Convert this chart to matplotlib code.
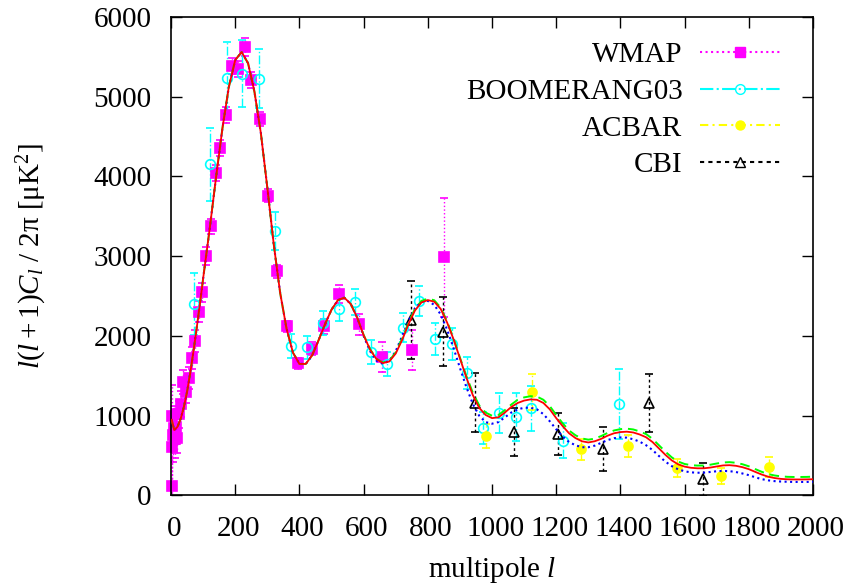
import matplotlib.pyplot as plt
from matplotlib.lines import Line2D
from matplotlib.transforms import ScaledTranslation

plt.rcParams['font.family'] = ['Liberation Serif', 'DejaVu Serif']
plt.rcParams['mathtext.fontset'] = 'custom'
plt.rcParams['mathtext.rm'] = 'Liberation Serif'
plt.rcParams['mathtext.it'] = 'Liberation Serif:italic'
plt.rcParams['mathtext.bf'] = 'Liberation Serif:bold'

# WMAP binned points (l, D_l, error)
wmap_l = [2, 3, 4, 6, 9, 12, 16, 20, 26, 32, 37, 47, 56, 65, 75, 87, 96, 108, 124,
          140, 152, 171, 189, 208, 230, 250, 276, 301, 330, 360, 396, 438, 476,
          524, 586, 656, 750, 850]
wmap_cl = [123, 610, 998, 756, 840, 714, 860, 723, 1019, 1144, 1423, 1298, 1473,
           1723, 1940, 2306, 2548, 3006, 3373, 4048, 4360, 4769, 5385, 5348, 5623,
           5206, 4723, 3760, 2810, 2119, 1660, 1840, 2119, 2527, 2148, 1735, 1819, 2985]
wmap_err = [560, 450, 390, 330, 280, 240, 210, 190, 170, 160, 150, 140, 140, 140,
            140, 130, 120, 110, 100, 100, 100, 100, 100, 100, 110, 100, 90, 80, 80,
            70, 70, 80, 90, 110, 130, 190, 250, 750]

# BOOMERANG03
boom_l = [73, 122, 174, 222, 273, 323, 374, 423, 472, 522, 573, 622, 674, 724,
          774, 822, 874, 922, 972, 1023, 1074, 1121, 1221, 1397]
boom_cl = [2402, 4152, 5235, 5290, 5223, 3315, 1873, 1856, 2160, 2335, 2423, 1798,
           1652, 2106, 2435, 1960, 1902, 1540, 844, 1035, 985, 1094, 686, 1152]
boom_err = [390, 460, 450, 420, 370, 240, 150, 150, 150, 150, 160, 150, 150, 180,
            190, 200, 200, 200, 200, 250, 300, 280, 220, 440]

# ACBAR
acbar_l = [981, 1125, 1276, 1424, 1576, 1713, 1864]
acbar_cl = [744, 1298, 581, 623, 348, 244, 356]
acbar_err = [150, 220, 130, 140, 110, 105, 130]

# CBI
cbi_l = [748, 848, 948, 1068, 1206, 1347, 1488, 1658]
cbi_cl = [2202, 2056, 1165, 794, 769, 581, 1160, 202]
cbi_err = [490, 430, 375, 300, 260, 280, 360, 210]

# model spectra
ell_th = [2, 10, 20, 30, 40, 50, 60, 70, 80, 90] + list(range(100, 2001, 20))
cl_common = [950, 820, 860, 960, 1110, 1300, 1540, 1810, 2100, 2400,
             2720, 3330, 3980, 4600, 5120, 5460, 5560, 5420, 5060, 4540,
             3860, 3150, 2540, 2090, 1790, 1650, 1650, 1760, 1950, 2150,
             2330, 2450, 2480, 2400, 2230]  # l = 2 .. 580
red_tail = [2010, 1830, 1710, 1660, 1680, 1780, 1950, 2150, 2320, 2420,
            2450, 2430, 2340, 2170, 1960, 1720, 1480, 1260, 1100, 1010,
            970, 980, 1040, 1110, 1160, 1190, 1205, 1200, 1160, 1080,
            970, 870, 780, 720, 680, 665, 680, 710, 750, 780,
            795, 800, 790, 765, 730, 670, 590, 510, 440, 390,
            362, 347, 341, 341, 350, 364, 377, 380, 372, 355,
            330, 296, 263, 236, 219, 208, 203, 201, 201, 202, 204]
green_tail = [2015, 1835, 1715, 1668, 1690, 1795, 1968, 2170, 2340, 2440,
              2468, 2448, 2356, 2185, 1972, 1730, 1500, 1290, 1130, 1040,
              1000, 1010, 1070, 1140, 1200, 1230, 1245, 1240, 1200, 1120,
              1010, 905, 815, 755, 715, 700, 712, 745, 785, 815,
              832, 838, 828, 803, 770, 710, 630, 550, 478, 425,
              395, 380, 375, 376, 386, 401, 414, 418, 410, 392,
              366, 331, 297, 269, 251, 240, 234, 232, 232, 233, 236]
blue_tail = [2000, 1810, 1690, 1650, 1690, 1810, 2000, 2190, 2350, 2430,
             2440, 2390, 2270, 2080, 1850, 1600, 1360, 1150, 1000, 920,
             900, 920, 980, 1040, 1080, 1100, 1100, 1080, 1020, 930,
             830, 740, 670, 630, 605, 605, 625, 660, 695, 718,
             728, 725, 705, 675, 630, 570, 495, 425, 368, 328,
             303, 290, 285, 287, 295, 304, 308, 305, 294, 276,
             255, 228, 205, 190, 180, 175, 172, 170, 170, 170, 171]
cl_red = cl_common + red_tail
cl_green = cl_common + green_tail
cl_blue = cl_common + blue_tail

fig = plt.figure(figsize=(8.5, 5.87), dpi=100)
ax = fig.add_axes([0.2012, 0.1559, 0.7553, 0.8152])


def plot_set(l, v, e, color, ls, marker, ms, mfc):
    eb = ax.errorbar(l, v, yerr=e, fmt=marker, color=color, ms=ms, mfc=mfc,
                     mec=color, mew=1.2, ecolor=color, elinewidth=1,
                     capsize=3, capthick=1, zorder=2)
    eb[2][0].set_linestyle(ls)
    eb[0].set_clip_on(False)


plot_set(wmap_l, wmap_cl, wmap_err, '#ff00ff', ':', 's', 7.5, '#ff00ff')
plot_set(boom_l, boom_cl, boom_err, '#00ffff', '-.', 'o', 7, 'none')
plot_set(acbar_l, acbar_cl, acbar_err, '#ffff00', (0, (4, 2, 1, 2)), 'o', 6.5, '#ffff00')
plot_set(cbi_l, cbi_cl, cbi_err, 'black', (0, (2, 2)), '^', 6.5, 'none')

ax.plot(ell_th, cl_blue, color='#0000ff', ls=':', lw=1.5, zorder=3)
ax.plot(ell_th, cl_green, color='#00ff00', ls=(0, (5, 3)), lw=1.4, zorder=3)
ax.plot(ell_th, cl_red, color='#ff0000', ls='-', lw=1.3, zorder=4)

ax.set_xlim(0, 2000)
ax.set_ylim(0, 6000)
ax.set_xticks(range(0, 2001, 200))
ax.set_yticks(range(0, 6001, 1000))
ax.tick_params(axis='both', direction='in', top=True, right=True, length=8,
               width=1, labelsize=21)
ax.tick_params(axis='x', pad=15)
ax.tick_params(axis='y', pad=14)
for lab in ax.get_xticklabels():
    lab.set_transform(lab.get_transform() + ScaledTranslation(0.03, 0, fig.dpi_scale_trans))
for sp in ax.spines.values():
    sp.set_linewidth(1.2)

ax.set_xlabel(r'multipole $l$', fontsize=21, labelpad=9)
ax.set_ylabel(r'$l(l+1)C_l\ /\ 2\mathrm{\pi}\ [\mathrm{\mu K}^2]$', fontsize=21,
              labelpad=32)

handles = [
    Line2D([0], [0], color='#ff00ff', ls=':', marker='s', ms=7.5, mfc='#ff00ff'),
    Line2D([0], [0], color='#00ffff', ls='-.', marker='o', ms=7, mfc='none'),
    Line2D([0], [0], color='#ffff00', ls=(0, (4, 2, 1, 2)), marker='o', ms=6.5),
    Line2D([0], [0], color='black', ls=(0, (2, 2)), marker='^', ms=6.5, mfc='none'),
]
ax.legend(handles, ['WMAP', 'BOOMERANG03', 'ACBAR', 'CBI'], loc='upper right',
          bbox_to_anchor=(0.967, 0.972), frameon=False, markerfirst=False,
          fontsize=21, handlelength=2.75, handletextpad=0.6, labelspacing=0.35,
          borderaxespad=0)

fig.savefig('out.png', dpi=100)
